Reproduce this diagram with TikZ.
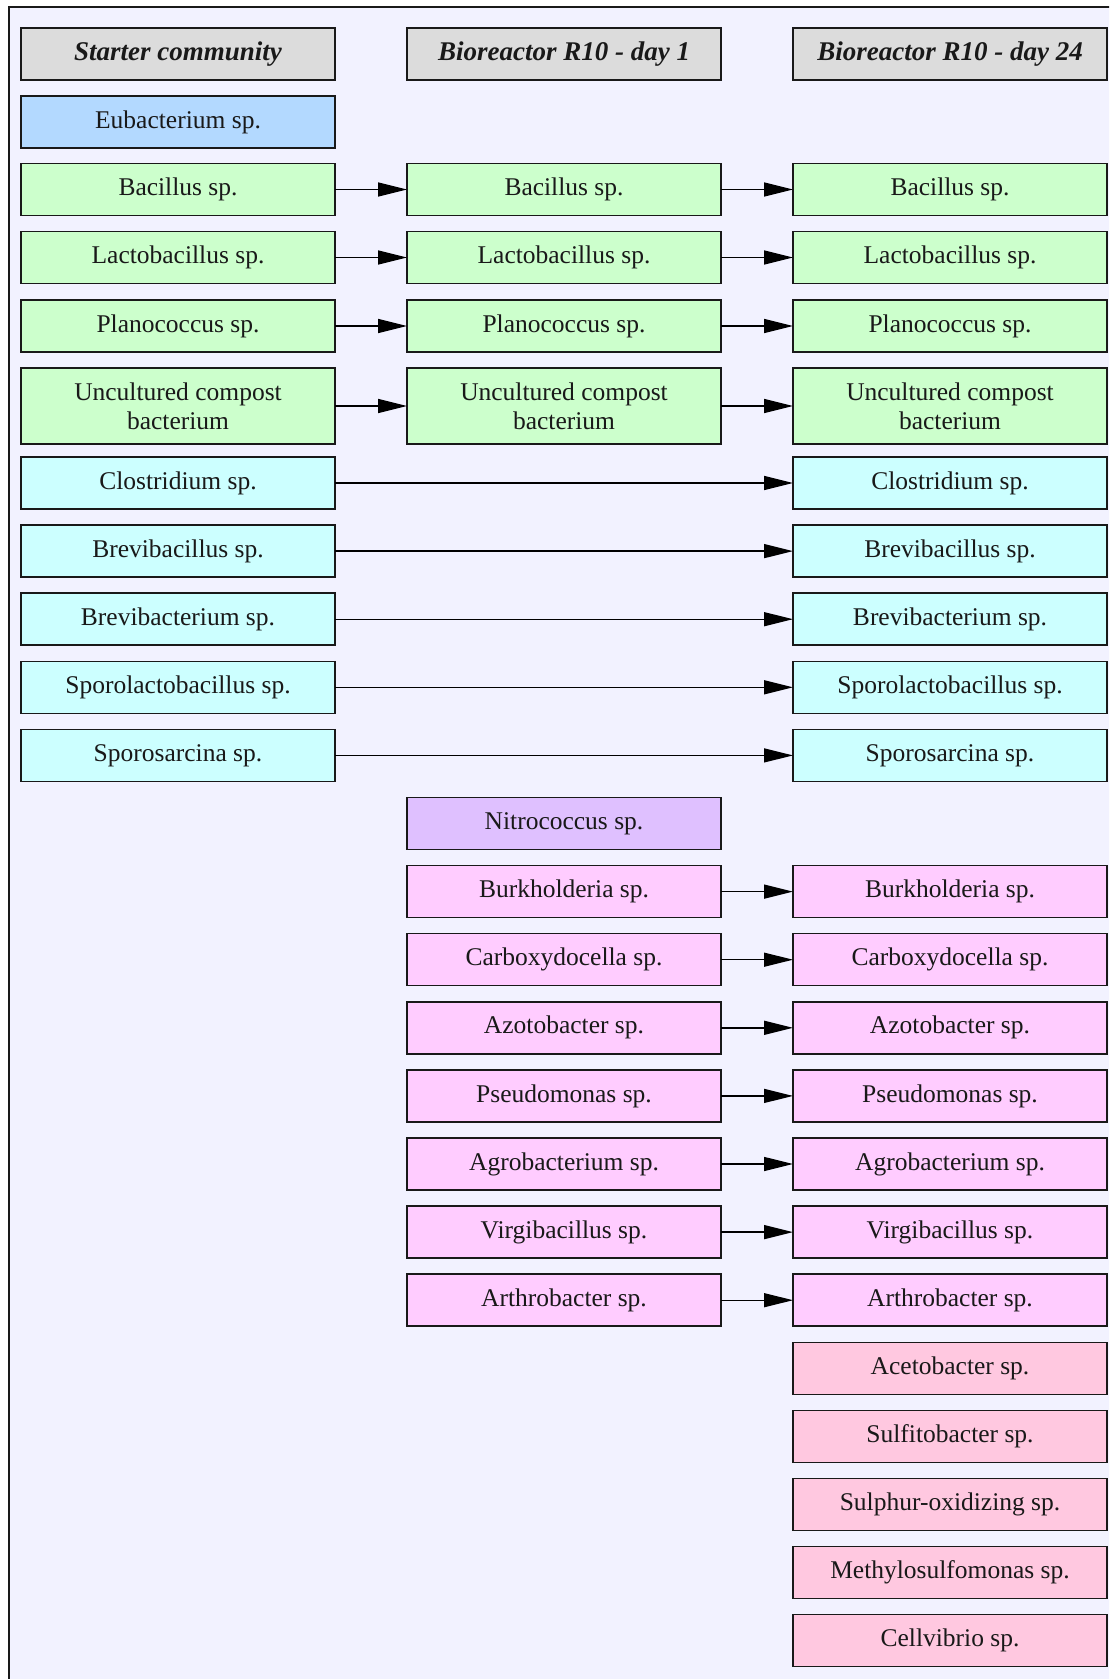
\documentclass[tikz,border=0pt]{standalone}
\usepackage{fontspec}
\setmainfont{Liberation Serif}
\usetikzlibrary{arrows.meta}
\definecolor{bgc}{RGB}{242,242,255}
\definecolor{hdrc}{RGB}{220,220,220}
\definecolor{bluec}{RGB}{179,217,255}
\definecolor{greenc}{RGB}{204,255,204}
\definecolor{cyanc}{RGB}{204,255,255}
\definecolor{purpc}{RGB}{223,192,255}
\definecolor{magc}{RGB}{255,204,255}
\definecolor{pinkc}{RGB}{255,200,224}
\definecolor{edgec}{RGB}{25,25,25}
\tikzset{
  box/.style={draw=edgec, line width=1.5pt, minimum width=314pt, minimum height=52pt,
    inner sep=0pt, outer sep=0pt, align=center, text=black!90,
    font=\fontsize{25.5}{29}\selectfont},
  hdr/.style={box, fill=hdrc, font=\fontsize{27}{29}\selectfont\bfseries\itshape},
  bl/.style={box, fill=bluec},
  gr/.style={box, fill=greenc},
  cy/.style={box, fill=cyanc},
  pu/.style={box, fill=purpc},
  mg/.style={box, fill=magc},
  pk/.style={box, fill=pinkc},
  conn/.style={draw=black, line width=1.4pt, -{Triangle[length=29pt,width=14pt]}}
}
\begin{document}
\begin{tikzpicture}[x=1pt,y=-1pt]
\useasboundingbox (0,0) rectangle (1109,1679);
\begin{scope}
\clip (0,0) rectangle (1109,1679);
\fill[white] (0,0) rectangle (1109,1679);
\draw[fill=bgc, line width=1.5pt, draw=edgec] (9,7) rectangle (1140,1710);
\end{scope}
% headers
\node[hdr] (h1) at (178,54) {Starter community};
\node[hdr] (h2) at (564,54) {Bioreactor R10 - day 1};
\node[hdr] (h3) at (950,54) {Bioreactor R10 - day 24};
% column 1
\node[bl] (a1) at (178,122) {Eubacterium sp.};
\node[gr] (a2) at (178,189.5) {Bacillus sp.};
\node[gr] (a3) at (178,257.5) {Lactobacillus sp.};
\node[gr] (a4) at (178,326) {Planococcus sp.};
\node[gr, minimum height=76pt] (a5) at (178,406) {Uncultured compost\\bacterium};
\node[cy] (a6) at (178,483) {Clostridium sp.};
\node[cy] (a7) at (178,551.1) {Brevibacillus sp.};
\node[cy] (a8) at (178,619.2) {Brevibacterium sp.};
\node[cy] (a9) at (178,687.3) {Sporolactobacillus sp.};
\node[cy] (a10) at (178,755.4) {Sporosarcina sp.};
% column 2
\node[gr] (b2) at (564,189.5) {Bacillus sp.};
\node[gr] (b3) at (564,257.5) {Lactobacillus sp.};
\node[gr] (b4) at (564,326) {Planococcus sp.};
\node[gr, minimum height=76pt] (b5) at (564,406) {Uncultured compost\\bacterium};
\node[pu] (b11) at (564,823.5) {Nitrococcus sp.};
\node[mg] (b12) at (564,891.6) {Burkholderia sp.};
\node[mg] (b13) at (564,959.7) {Carboxydocella sp.};
\node[mg] (b14) at (564,1027.8) {Azotobacter sp.};
\node[mg] (b15) at (564,1095.9) {Pseudomonas sp.};
\node[mg] (b16) at (564,1164) {Agrobacterium sp.};
\node[mg] (b17) at (564,1232.1) {Virgibacillus sp.};
\node[mg] (b18) at (564,1300.2) {Arthrobacter sp.};
% column 3
\node[gr] (c2) at (950,189.5) {Bacillus sp.};
\node[gr] (c3) at (950,257.5) {Lactobacillus sp.};
\node[gr] (c4) at (950,326) {Planococcus sp.};
\node[gr, minimum height=76pt] (c5) at (950,406) {Uncultured compost\\bacterium};
\node[cy] (c6) at (950,483) {Clostridium sp.};
\node[cy] (c7) at (950,551.1) {Brevibacillus sp.};
\node[cy] (c8) at (950,619.2) {Brevibacterium sp.};
\node[cy] (c9) at (950,687.3) {Sporolactobacillus sp.};
\node[cy] (c10) at (950,755.4) {Sporosarcina sp.};
\node[mg] (c12) at (950,891.6) {Burkholderia sp.};
\node[mg] (c13) at (950,959.7) {Carboxydocella sp.};
\node[mg] (c14) at (950,1027.8) {Azotobacter sp.};
\node[mg] (c15) at (950,1095.9) {Pseudomonas sp.};
\node[mg] (c16) at (950,1164) {Agrobacterium sp.};
\node[mg] (c17) at (950,1232.1) {Virgibacillus sp.};
\node[mg] (c18) at (950,1300.2) {Arthrobacter sp.};
\node[pk] (c19) at (950,1368.3) {Acetobacter sp.};
\node[pk] (c20) at (950,1436.4) {Sulfitobacter sp.};
\node[pk] (c21) at (950,1504.5) {Sulphur-oxidizing sp.};
\node[pk] (c22) at (950,1572.6) {Methylosulfomonas sp.};
\node[pk] (c23) at (950,1640.7) {Cellvibrio sp.};
% connectors
\foreach \i in {2,3,4,5}{
  \draw[conn] (a\i) -- (b\i);
  \draw[conn] (b\i) -- (c\i);
}
\foreach \i in {6,...,10}{
  \draw[conn] (a\i) -- (c\i);
}
\foreach \i in {12,...,18}{
  \draw[conn] (b\i) -- (c\i);
}
\end{tikzpicture}
\end{document}
